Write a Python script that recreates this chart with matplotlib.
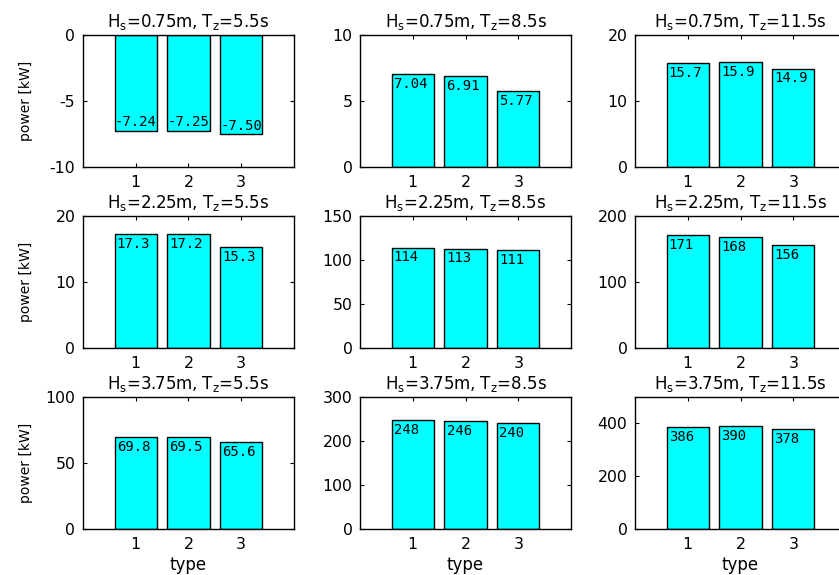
import numpy as np
import matplotlib
matplotlib.use("Agg")
import matplotlib.pyplot as plt

plt.rcParams['font.family'] = ['DejaVu Sans']
plt.rcParams['font.size'] = 11.5
plt.rcParams['axes.unicode_minus'] = False

# sea states
Hs = [0.75, 2.25, 3.75]
Tz = [5.5, 8.5, 11.5]
types = [1, 2, 3]

# mean power per type [kW], one row per Hs, one column per Tz
power = [
    [[-7.24, -7.25, -7.50], [7.04, 6.91, 5.77], [15.7, 15.9, 14.9]],
    [[17.3, 17.2, 15.3], [114, 113, 111], [171, 168, 156]],
    [[69.8, 69.5, 65.6], [248, 246, 240], [386, 390, 378]],
]

ylims = [
    [(-10, 0), (0, 10), (0, 20)],
    [(0, 20), (0, 150), (0, 200)],
    [(0, 100), (0, 300), (0, 500)],
]
yticks = [
    [[-10, -5, 0], [0, 5, 10], [0, 10, 20]],
    [[0, 10, 20], [0, 50, 100, 150], [0, 100, 200]],
    [[0, 50, 100], [0, 100, 200, 300], [0, 200, 400]],
]


def fmt(v):
    a = abs(v)
    if a < 10:
        return '%.2f' % v
    if a < 100:
        return '%.1f' % v
    return '%.0f' % v


fig = plt.figure(figsize=(8.39, 5.75), dpi=100)

lefts = [0.0989, 0.4291, 0.7569]
bottoms = [0.7096, 0.3948, 0.0800]
w, h = 0.2515, 0.2296

for r in range(3):
    for c in range(3):
        ax = fig.add_axes([lefts[c], bottoms[r], w, h])
        vals = power[r][c]
        ax.bar(types, vals, width=0.8, color='#00ffff', edgecolor='black',
               linewidth=1.0, zorder=2)
        for x, v in zip(types, vals):
            if v >= 0:
                ax.annotate(fmt(v), (x - 0.4, v), xytext=(1.5, -2),
                            textcoords='offset points', ha='left', va='top',
                            family='DejaVu Sans Mono', fontsize=10, zorder=3)
            else:
                ax.annotate(fmt(v), (x - 0.4, v), xytext=(0, 1),
                            textcoords='offset points', ha='left', va='bottom',
                            family='DejaVu Sans Mono', fontsize=10, zorder=3)
        ax.set_xlim(0, 4)
        ax.set_ylim(*ylims[r][c])
        ax.set_xticks(types)
        ax.set_yticks(yticks[r][c])
        ax.tick_params(direction='in', length=3, width=0.8, top=True,
                       right=True, pad=5.5, labelsize=11.3)
        for s in ax.spines.values():
            s.set_linewidth(1.0)
        ax.set_title(r'H$_{\mathregular{s}}$=%gm, T$_{\mathregular{z}}$=%gs'
                     % (Hs[r], Tz[c]), fontsize=12, pad=6)
        if c == 0:
            ax.set_ylabel('power [kW]', fontsize=10)
            ax.yaxis.set_label_coords(-0.237, 0.5)
        if r == 2:
            ax.set_xlabel('type', fontsize=12, labelpad=3)

fig.savefig('out.png', dpi=100)
